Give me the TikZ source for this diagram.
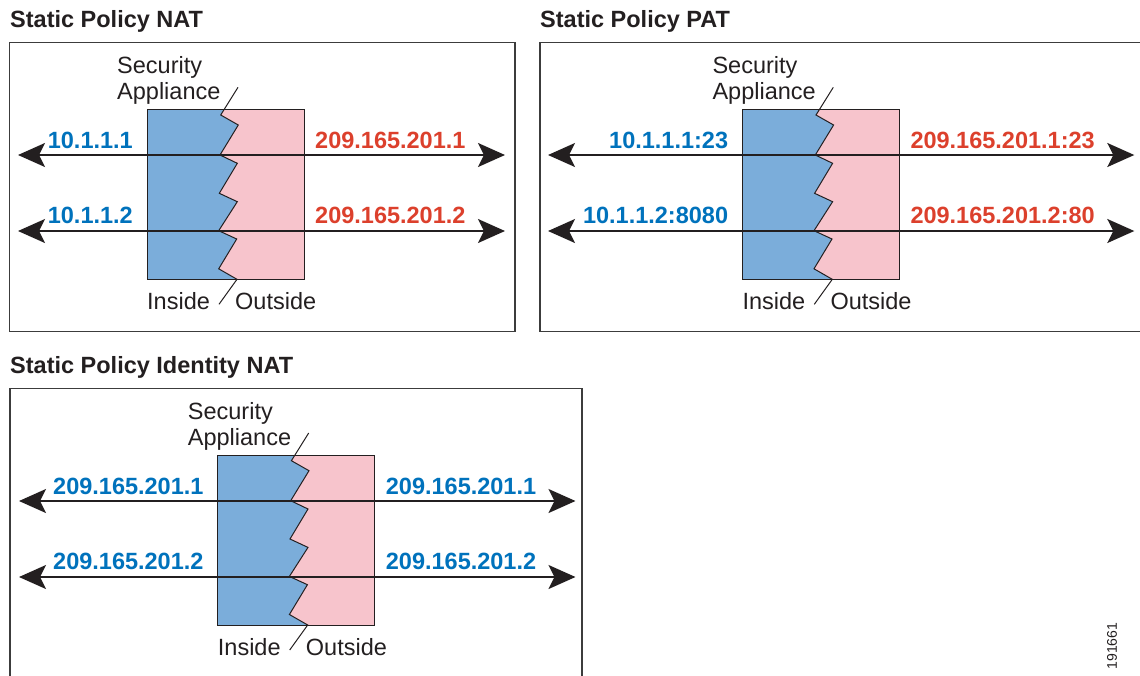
\documentclass[tikz,border=0pt]{standalone}
\usepackage{fontspec}
\setmainfont{Liberation Sans}
\usetikzlibrary{arrows.meta}

\definecolor{ink}{HTML}{231F20}
\definecolor{framegray}{HTML}{3C3C3C}
\definecolor{insideblue}{HTML}{7BADDA}
\definecolor{outsidepink}{HTML}{F7C4CC}
\definecolor{ipblue}{HTML}{0072BC}
\definecolor{ipred}{HTML}{DC402C}

\newcommand{\jagline}{-- (73.7,5.7) -- (91.3,15.7) -- (73,45.7) -- (90.3,54) -- (72.3,84) -- (90.3,92.4) -- (71.7,121.4) -- (89.7,129.7) -- (71.7,159.5) -- (90,170)}

\newcommand{\appliance}[3]{%
  \begin{scope}[shift={(#2,#3)}]
    \fill[insideblue] (0,0) -- (77.3,0) \jagline -- (0,170) -- cycle;
    \fill[outsidepink] (157,0) -- (77.3,0) \jagline -- (157,170) -- cycle;
    \draw[rim] (0,0) rectangle (157,170);
    \draw[jag] (91,-22) \jagline -- (72,195);
    \node[plain] (#1sec) at (-30,-36) {Security};
    \node[plain] (#1app) at (-30,-10) {Appliance};
    \node[plain] (#1in) at (0,200) {Inside};
    \node[plain] (#1out) at (88,200) {Outside};
  \end{scope}}

\begin{document}
\begin{tikzpicture}[x=1pt, y=-1pt,
    plain/.style={font=\fontsize{23.5}{26}\selectfont, text=ink, anchor=base west, inner sep=0pt},
    title/.style={font=\bfseries\fontsize{23.5}{26}\selectfont, text=ink, anchor=base west, inner sep=0pt},
    inip/.style={font=\bfseries\fontsize{23.5}{26}\selectfont, text=ipblue, anchor=base east, inner sep=0pt},
    outip/.style={font=\bfseries\fontsize{23.5}{26}\selectfont, anchor=base west, inner sep=0pt},
    frame/.style={draw=framegray, line width=1.5pt},
    rim/.style={draw=ink, line width=1pt},
    jag/.style={draw=ink, line width=1pt, line join=miter},
    twoway/.style={{Stealth[length=27pt, width=24pt, inset=6pt]}-{Stealth[length=27pt, width=24pt, inset=6pt]}, draw=ink, line width=1.8pt},
    figno/.style={font=\fontsize{14}{16}\selectfont, text=ink, rotate=90, inner sep=0pt}]

    \useasboundingbox (0,0) rectangle (1140,675);
    \clip (0,0) rectangle (1140,675);

    % static policy NAT
    \node[title] (natT) at (10,27.3) {Static Policy NAT};
    \draw[frame] (9.3,42.7) rectangle (515,331.7);
    \appliance{nat}{147}{109.3}
    \coordinate (nat1l) at (18,155);
    \coordinate (nat1r) at (505,155);
    \coordinate (nat2l) at (18,231);
    \coordinate (nat2r) at (505,231);
    \draw[twoway] (nat1l) -- (nat1r);
    \draw[twoway] (nat2l) -- (nat2r);
    \node[inip] (natA) at (133,148) {10.1.1.1};
    \node[inip] (natB) at (133,223) {10.1.1.2};
    \node[outip, text=ipred] (natC) at (315,148) {209.165.201.1};
    \node[outip, text=ipred] (natD) at (315,223) {209.165.201.2};

    % static policy PAT
    \node[title] (patT) at (540,27.3) {Static Policy PAT};
    \draw[frame] (540,42.7) rectangle (1150,331.7);
    \appliance{pat}{742.3}{109.3}
    \coordinate (pat1l) at (548,155);
    \coordinate (pat1r) at (1134.3,155);
    \coordinate (pat2l) at (548,231);
    \coordinate (pat2r) at (1134.3,231);
    \draw[twoway] (pat1l) -- (pat1r);
    \draw[twoway] (pat2l) -- (pat2r);
    \node[inip] (patA) at (728.3,148) {10.1.1.1:23};
    \node[inip] (patB) at (728.3,223) {10.1.1.2:8080};
    \node[outip, text=ipred] (patC) at (910.3,148) {209.165.201.1:23};
    \node[outip, text=ipred] (patD) at (910.3,223) {209.165.201.2:80};

    % static policy identity NAT
    \node[title] (idT) at (10,373) {Static Policy Identity NAT};
    \draw[frame] (10,388.5) rectangle (582,690);
    \appliance{id}{217.7}{455}
    \coordinate (id1l) at (19,501);
    \coordinate (id1r) at (575.5,501);
    \coordinate (id2l) at (19,577);
    \coordinate (id2r) at (575.5,577);
    \draw[twoway] (id1l) -- (id1r);
    \draw[twoway] (id2l) -- (id2r);
    \node[inip] (idA) at (203.7,494) {209.165.201.1};
    \node[inip] (idB) at (203.7,569) {209.165.201.2};
    \node[outip, text=ipblue] (idC) at (385.7,494) {209.165.201.1};
    \node[outip, text=ipblue] (idD) at (385.7,569) {209.165.201.2};

    \node[figno] (figid) at (1112,646) {191661};
\end{tikzpicture}
\end{document}
